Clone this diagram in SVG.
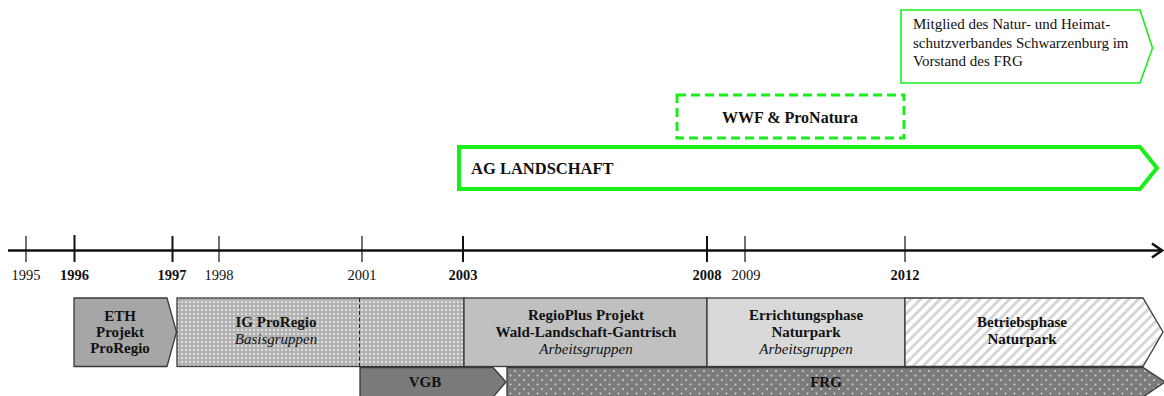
<svg xmlns="http://www.w3.org/2000/svg" width="1164" height="396" viewBox="0 0 1164 396">
<style>
text{font-family:"Liberation Serif","Times New Roman",serif;fill:#111;}
.b{font-weight:bold;font-size:15px;}
.i{font-style:italic;font-size:15px;}
.yr{font-size:14.5px;}
.yrb{font-size:14.5px;font-weight:bold;}
.m{text-anchor:middle;}
.tick{stroke:#111;stroke-width:1.2;}
.tickb{stroke:#111;stroke-width:2;}
.box{stroke:#3a3a3a;stroke-width:1.3;}
.g{fill:#fff;stroke:#19ee19;}
</style>
<defs>
<pattern id="dotsL" width="4" height="4" patternUnits="userSpaceOnUse">
<rect width="4" height="4" fill="#b3b3b3"/>
<circle cx="2" cy="2" r="0.9" fill="#f2f2f2"/>
</pattern>
<pattern id="dotsD" width="9" height="9" patternUnits="userSpaceOnUse">
<rect width="9" height="9" fill="#7c7c7c"/>
<circle cx="2" cy="2" r="1" fill="#d0d0d0"/>
<circle cx="6.5" cy="6.5" r="1" fill="#d0d0d0"/>
</pattern>
<pattern id="hatch" width="7" height="7" patternUnits="userSpaceOnUse" patternTransform="rotate(45)">
<rect width="7" height="7" fill="#fff"/>
<rect width="3" height="7" fill="#d6d6d6"/>
</pattern>
</defs>

<g id="timeline">
<line x1="8" y1="250.5" x2="1162" y2="250.5" stroke="#111" stroke-width="2.5"/>
<polyline points="1152,243.5 1162,250.5 1152,257.5" fill="none" stroke="#111" stroke-width="2.5"/>
<line class="tick" x1="26" y1="236" x2="26" y2="262"/>
<line class="tickb" x1="74.5" y1="235" x2="74.5" y2="262"/>
<line class="tickb" x1="172.5" y1="236" x2="172.5" y2="262"/>
<line class="tick" x1="219" y1="236" x2="219" y2="262"/>
<line class="tick" x1="362" y1="236" x2="362" y2="262"/>
<line class="tickb" x1="463" y1="236" x2="463" y2="262"/>
<line class="tickb" x1="707" y1="236" x2="707" y2="262"/>
<line class="tick" x1="745" y1="236" x2="745" y2="262"/>
<line class="tick" x1="905" y1="236" x2="905" y2="262"/>
<text class="yr m" x="26" y="280">1995</text>
<text class="yrb m" x="74.5" y="280">1996</text>
<text class="yrb m" x="172" y="280">1997</text>
<text class="yr m" x="219" y="280">1998</text>
<text class="yr m" x="362" y="280">2001</text>
<text class="yrb m" x="463" y="280">2003</text>
<text class="yrb m" x="707" y="280">2008</text>
<text class="yr m" x="746" y="280">2009</text>
<text class="yrb m" x="905" y="280">2012</text>
</g>

<g id="mitglied">
<polygon class="g" stroke-width="1.6" points="901,10 1140,10 1152.5,48 1140,83 901,83"/>
<text x="913" y="29" style="font-size:15px">Mitglied des Natur- und Heimat-</text>
<text x="913" y="48" style="font-size:15px">schutzverbandes Schwarzenburg im</text>
<text x="913" y="66" style="font-size:15px">Vorstand des FRG</text>
</g>

<g id="wwf">
<rect class="g" x="677" y="95" width="227" height="43" stroke-width="3" stroke-dasharray="9,5"/>
<text class="m" x="790" y="123" style="font-weight:bold;font-size:16px">WWF &amp; ProNatura</text>
</g>

<g id="ag">
<polygon class="g" stroke-width="4" points="459,147 1140,147 1157,168 1140,189 459,189"/>
<text x="471" y="174" style="font-weight:bold;font-size:16.5px">AG LANDSCHAFT</text>
</g>

<g id="eth">
<polygon class="box" fill="#a6a6a6" points="74,298 167,298 176.5,332 167,366.5 74,366.5"/>
<text class="b m" x="120" y="321">ETH</text>
<text class="b m" x="120" y="337">Projekt</text>
<text class="b m" x="120" y="353">ProRegio</text>
</g>

<g id="igproregio">
<rect class="box" fill="url(#dotsL)" x="177" y="298" width="287" height="68.5"/>
<line x1="359.5" y1="298" x2="359.5" y2="367" stroke="#222" stroke-width="1" stroke-dasharray="4,2.5"/>
<text class="b m" x="276" y="327">IG ProRegio</text>
<text class="i m" x="276" y="344">Basisgruppen</text>
</g>

<g id="regioplus">
<rect class="box" fill="#c0c0c0" x="464" y="298" width="243" height="68.5"/>
<text class="b m" x="586" y="320">RegioPlus Projekt</text>
<text class="b m" x="586" y="337">Wald-Landschaft-Gantrisch</text>
<text class="i m" x="586" y="354">Arbeitsgruppen</text>
</g>

<g id="errichtung">
<rect class="box" fill="#d9d9d9" x="707" y="298" width="198" height="68.5"/>
<text class="b m" x="806" y="320">Errichtungsphase</text>
<text class="b m" x="806" y="337">Naturpark</text>
<text class="i m" x="806" y="354">Arbeitsgruppen</text>
</g>

<g id="betrieb">
<polygon class="box" fill="url(#hatch)" points="905,298 1143,298 1163,332 1143,366.5 905,366.5"/>
<text class="b m" x="1022" y="327">Betriebsphase</text>
<text class="b m" x="1022" y="344">Naturpark</text>
</g>

<g id="vgb">
<polygon class="box" fill="#7a7a7a" points="360,367.5 493,367.5 506,382 493,397 360,397"/>
<text class="b m" x="425" y="387">VGB</text>
</g>

<g id="frg">
<polygon class="box" fill="url(#dotsD)" points="507,367.5 1143,367.5 1165,382 1143,397 507,397"/>
<text class="b m" x="826" y="387">FRG</text>
</g>

<g id="connectors"></g>
</svg>
